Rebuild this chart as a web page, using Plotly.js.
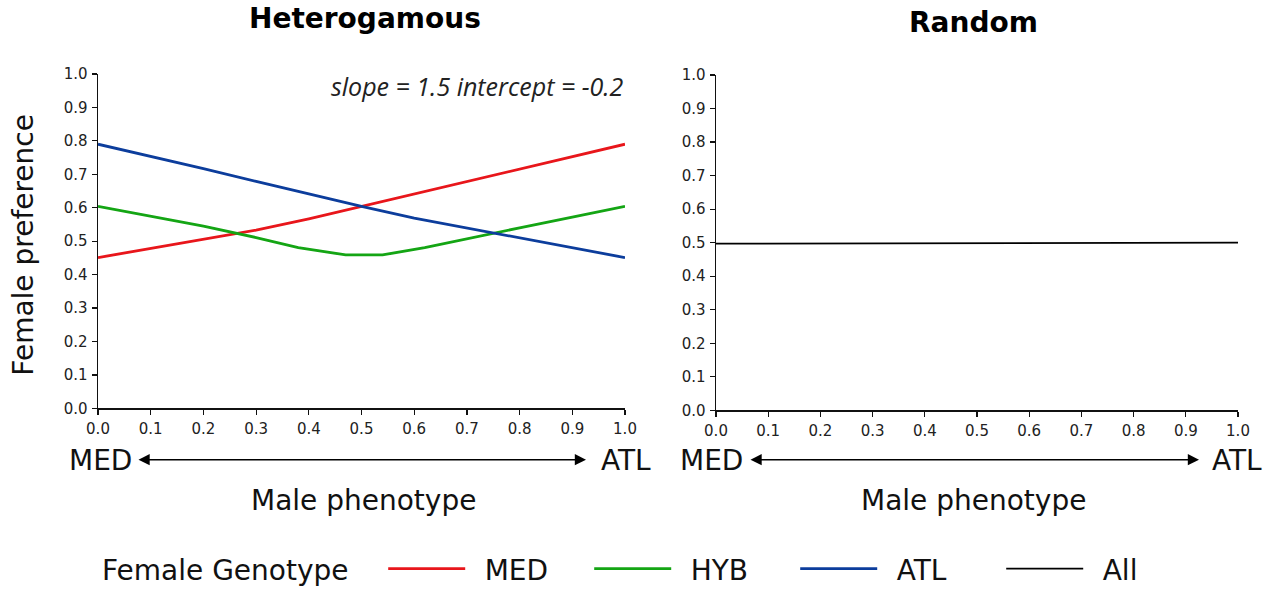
<!DOCTYPE html>
<html>
<head>
<meta charset="utf-8">
<script src="https://cdn.plot.ly/plotly-3.0.1.min.js"></script>
<style>html,body{margin:0;padding:0;background:#fff;}#chart{width:1272px;height:594px;}</style>
</head>
<body>
<div id="chart"></div>
<script>
// ---- data ----
const maleX = [0, 0.1, 0.2, 0.3, 0.4, 0.5, 0.6, 0.7, 0.8, 0.9, 1.0];
const medPref = [0.451, 0.479, 0.507, 0.533, 0.567, 0.604, 0.641, 0.679, 0.717, 0.754, 0.790];
const atlPref = [0.790, 0.754, 0.717, 0.679, 0.641, 0.604, 0.569, 0.540, 0.510, 0.480, 0.451];
const hybX = [0, 0.1, 0.2, 0.3, 0.38, 0.47, 0.54, 0.62, 0.7, 0.8, 0.9, 1.0];
const hybPref = [0.604, 0.575, 0.545, 0.511, 0.481, 0.459, 0.459, 0.481, 0.508, 0.540, 0.572, 0.604];
const randX = [0, 1.0];
const allPref = [0.497, 0.500];
const seriesNames = ["MED", "HYB", "ATL", "All"];
const panelTitles = ["Heterogamous", "Random"];
const tickVals = [0, 0.1, 0.2, 0.3, 0.4, 0.5, 0.6, 0.7, 0.8, 0.9, 1.0];
const tickText = ["0.0", "0.1", "0.2", "0.3", "0.4", "0.5", "0.6", "0.7", "0.8", "0.9", "1.0"];

// ---- style ----
const colors = {MED: "#e8161b", HYB: "#14a514", ATL: "#0c3d9c", All: "#000000"};
const W = 1272, H = 594;
const px = v => v / W;
const py = v => 1 - v / H;
const baseFont = "DejaVu Sans, Verdana, sans-serif";
const pad = "&nbsp;&#8201;";

const traces = [
  {x: maleX, y: medPref, name: pad + seriesNames[0], mode: "lines", line: {color: colors.MED, width: 2.8}, xaxis: "x", yaxis: "y"},
  {x: hybX, y: hybPref, name: pad + seriesNames[1], mode: "lines", line: {color: colors.HYB, width: 2.8}, xaxis: "x", yaxis: "y"},
  {x: maleX, y: atlPref, name: pad + seriesNames[2], mode: "lines", line: {color: colors.ATL, width: 2.8}, xaxis: "x", yaxis: "y"},
  {x: randX, y: allPref, name: pad + seriesNames[3], mode: "lines", line: {color: colors.All, width: 1.8}, xaxis: "x2", yaxis: "y2"}
];

function axis(domain, anchor) {
  return {domain: domain, anchor: anchor, range: [0, 1], tickvals: tickVals, ticktext: tickText,
    ticks: "outside", ticklen: 5, tickwidth: 1.2, tickcolor: "#111", showline: true, linecolor: "#111", linewidth: 1.4,
    showgrid: false, zeroline: false, fixedrange: true, ticklabelstandoff: 1,
    tickfont: {family: baseFont, size: 15, color: "#222"}};
}

const bigFont = {family: baseFont, size: 28, color: "#111"};
function note(text, x, y, font, extra) {
  return Object.assign({text: text, x: px(x), y: py(y), xref: "paper", yref: "paper", xanchor: "center", yanchor: "middle", showarrow: false, font: font}, extra || {});
}
const titleFont = {family: baseFont, size: 28, color: "#000"};
const annotations = [
  note("<b>" + panelTitles[0] + "</b>", 365, 19, titleFont),
  note("<b>" + panelTitles[1] + "</b>", 973, 23, titleFont),
  note("Female preference", 24, 248, bigFont, {textangle: -90}),
  note("<i>slope = 1.5 intercept = -0.2</i>", 626, 87, {family: "Open Sans, sans-serif", size: 25, color: "#222"}, {xanchor: "right"}),
  note("Male phenotype", 363, 507, bigFont),
  note("Male phenotype", 973, 507, bigFont),
  note("MED", 100, 467, bigFont),
  note("ATL", 626, 467, bigFont),
  note("MED", 711, 467, bigFont),
  note("ATL", 1237, 467, bigFont),
  {text: "", x: px(586), y: py(466), ax: px(137), ay: py(466), xref: "paper", yref: "paper", axref: "paper", ayref: "paper",
    showarrow: true, arrowside: "end+start", arrowhead: 2, arrowsize: 1.4, arrowwidth: 1.6, arrowcolor: "#000"},
  {text: "", x: px(1199), y: py(466), ax: px(749), ay: py(466), xref: "paper", yref: "paper", axref: "paper", ayref: "paper",
    showarrow: true, arrowside: "end+start", arrowhead: 2, arrowsize: 1.4, arrowwidth: 1.6, arrowcolor: "#000"}
];

const layout = {
  width: W, height: H,
  margin: {l: 0, r: 0, t: 0, b: 0},
  paper_bgcolor: "#fff", plot_bgcolor: "#fff",
  showlegend: true,
  legend: {orientation: "h", x: px(100), xanchor: "left", y: py(577), yanchor: "middle",
    font: {family: baseFont, size: 28, color: "#111"},
    title: {text: "Female Genotype&nbsp;&nbsp;&nbsp;", font: {family: baseFont, size: 28, color: "#111"}, side: "left"},
    entrywidth: 114, itemwidth: 77, bgcolor: "rgba(0,0,0,0)"},
  xaxis: axis([px(98), px(625)], "y"),
  yaxis: axis([py(414), py(75)], "x"),
  xaxis2: axis([px(716), px(1238)], "y2"),
  yaxis2: axis([py(416), py(76)], "x2"),
  annotations: annotations
};

Plotly.newPlot("chart", traces, layout, {displayModeBar: false, staticPlot: true});
</script>
</body>
</html>
